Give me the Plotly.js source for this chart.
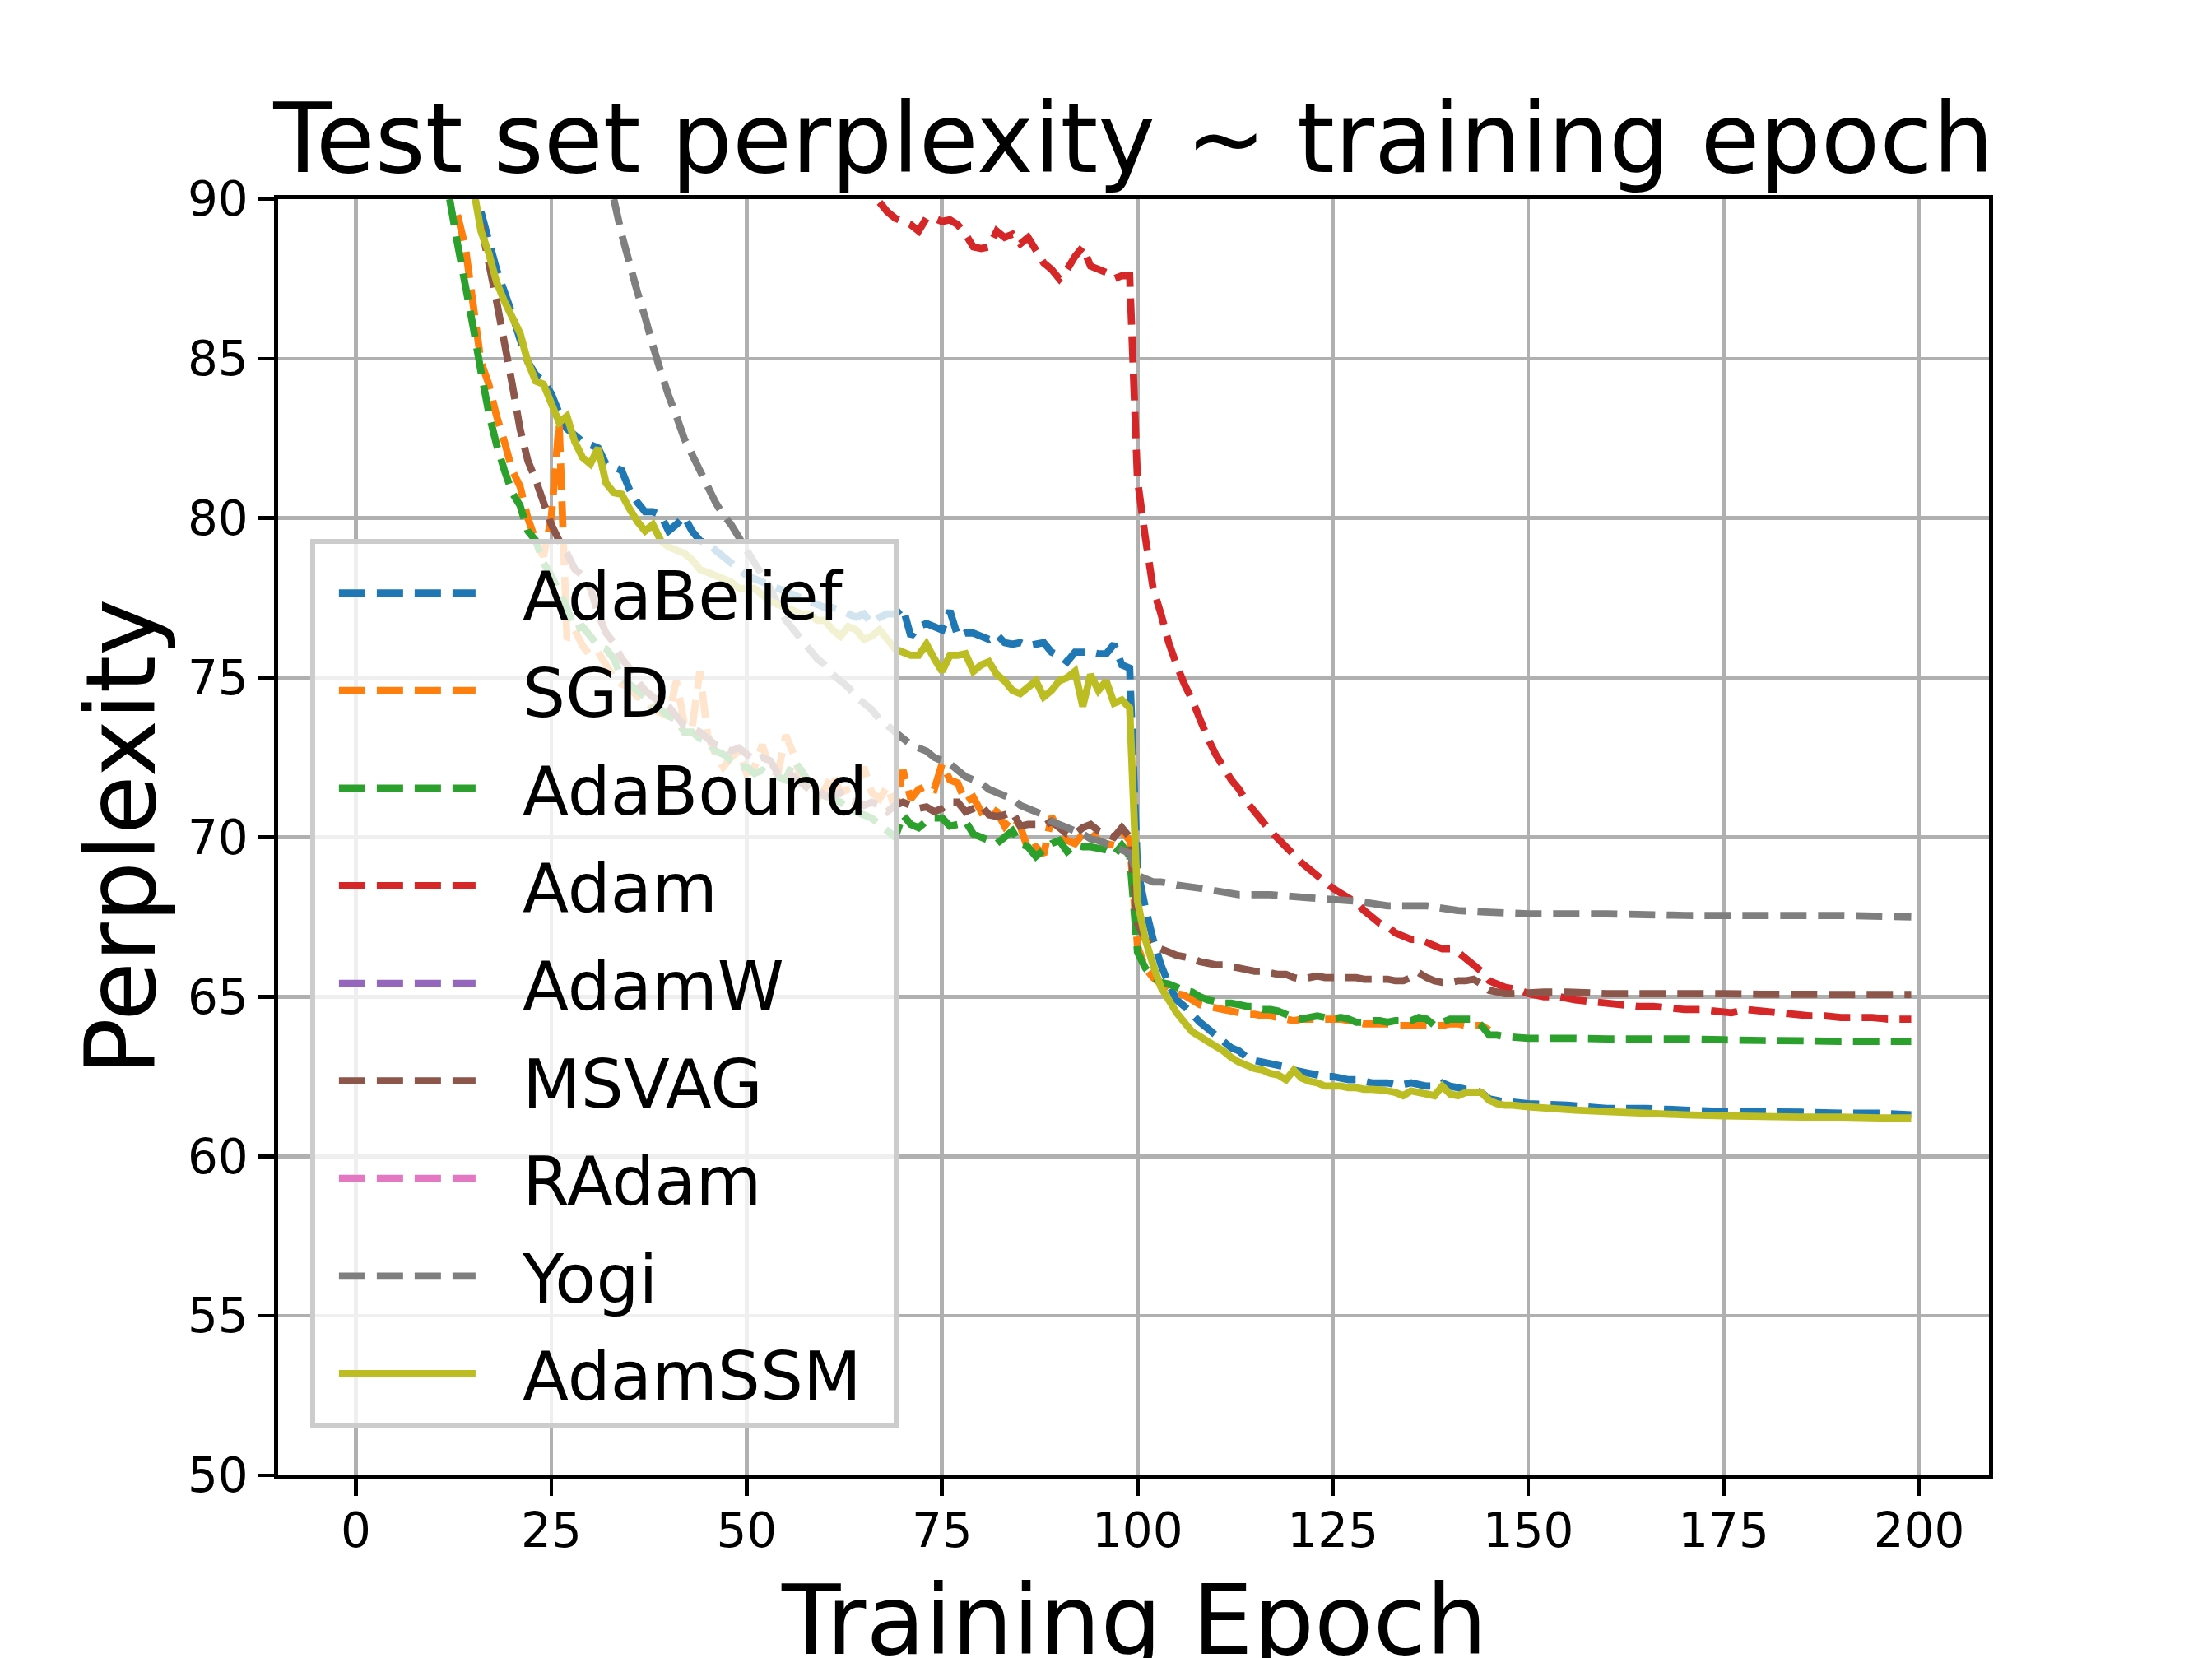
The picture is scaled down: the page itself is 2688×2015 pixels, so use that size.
<!DOCTYPE html>
<html>
<head>
<meta charset="utf-8">
<script src="https://cdn.plot.ly/plotly-3.0.1.min.js"></script>
<style>html,body{margin:0;padding:0;background:#fff;}#chart{width:2688px;height:2015px;}</style>
</head>
<body>
<div id="chart"></div>
<script>
// ---------- data ----------
const seriesNames = ['AdaBelief','SGD','AdaBound','Adam','AdamW','MSVAG','RAdam','Yogi','AdamSSM'];
const xTicks = [0,25,50,75,100,125,150,175,200];
const yTicks = [50,55,60,65,70,75,80,85,90];

// AdaBelief: per-epoch values from epoch 16 to 148, then a sparse tail
const adabeliefStart = 16;
const adabeliefVals = [
  89.6, 88.7, 87.8, 87.1, 86.4, 85.6, 84.9, 84.5, 84.3, 83.9,
  83.3, 82.8, 82.6, 82.4, 82.3, 82.2, 81.7, 81.6, 81.5, 80.9,
  80.5, 80.2, 80.2, 80.1, 79.6, 79.8, 80.05, 79.6, 79.3, 79.2,
  79.0, 78.8, 78.6, 78.4, 78.2, 78.1, 78.0, 77.9, 77.8, 77.7,
  77.6, 77.5, 77.4, 77.3, 77.2, 77.2, 77.1, 77.0, 76.9, 77.0,
  76.7, 76.9, 77.0, 77.0, 77.2, 76.3, 76.6, 76.7, 76.6, 76.5,
  77.1, 76.3, 76.4, 76.4, 76.3, 76.2, 76.35, 76.1, 76.05, 76.1,
  76.0, 76.05, 76.1, 75.8, 75.7, 75.5, 75.8, 75.8, 75.8, 75.75,
  75.75, 76.05, 75.4, 75.3, 69.0, 67.8, 66.8, 66.0, 65.4, 64.9,
  64.7, 64.45, 64.2, 64.0, 63.8, 63.6, 63.4, 63.3, 63.1, 63.0,
  62.95, 62.9, 62.85, 62.8, 62.7, 62.65, 62.6, 62.55, 62.5, 62.5,
  62.45, 62.4, 62.4, 62.35, 62.3, 62.3, 62.3, 62.25, 62.25, 62.3,
  62.25, 62.2, 62.2, 62.3, 62.2, 62.15, 62.1, 62.1, 62.0, 61.8,
  61.75, 61.7, 61.7
];
const adabeliefTailEpochs = [150,155,160,165,170,175,180,185,190,195,199];
const adabeliefTailVals   = [61.65,61.6,61.5,61.5,61.45,61.4,61.4,61.38,61.35,61.35,61.3];

// SGD: per-epoch values from epoch 13 to 145
const sgdStart = 13;
const sgdVals = [
  89.5, 88.5, 86.7, 84.9, 84.2, 83.2, 82.4, 81.5, 81.0, 80.0,
  79.3, 78.8, 80.0, 83.0, 76.2, 76.5, 76.0, 75.7, 75.8, 75.4,
  75.0, 74.8, 74.7, 74.4, 74.3, 74.0, 73.9, 73.8, 74.9, 73.6,
  73.4, 75.2, 73.2, 72.6, 72.2, 72.5, 72.7, 72.0, 72.2, 72.9,
  72.1, 72.0, 73.2, 72.6, 71.8, 71.6, 71.2, 71.5, 72.0, 71.4,
  71.5, 71.6, 72.2, 71.4, 71.2, 71.6, 70.9, 72.1, 71.2, 71.5,
  71.6, 71.5, 72.3, 71.8, 71.7, 71.1, 71.25, 70.8, 70.95, 70.8,
  70.35, 70.65, 70.35, 69.6, 69.7, 69.45, 70.65, 70.2, 69.9, 69.8,
  70.1, 70.2, 69.9, 69.8, 69.75, 70.2, 69.9, 66.6, 65.9, 65.6,
  65.4, 65.2, 65.1, 65.05, 64.9, 64.75, 64.7, 64.65, 64.6, 64.55,
  64.5, 64.45, 64.45, 64.4, 64.4, 64.35, 64.3, 64.25, 64.3, 64.3,
  64.3, 64.3, 64.3, 64.3, 64.25, 64.2, 64.15, 64.15, 64.15, 64.15,
  64.1, 64.1, 64.1, 64.1, 64.1, 64.1, 64.1, 64.15, 64.15, 64.1,
  64.1, 64.1, 63.95
];

// AdaBound: per-epoch values from epoch 12 to 147, then a sparse tail
const adaboundStart = 12;
const adaboundVals = [
  90.0, 88.6, 87.3, 86.0, 84.6, 83.3, 82.3, 81.5, 80.8, 80.4,
  79.6, 79.3, 78.6, 78.2, 77.7, 77.2, 76.5, 76.6, 76.3, 76.0,
  75.9, 75.6, 75.0, 74.8, 74.6, 74.4, 74.1, 74.0, 73.8, 73.7,
  73.3, 73.3, 73.1, 73.0, 72.7, 72.6, 72.4, 72.2, 72.2, 72.0,
  72.1, 71.9, 71.9, 71.8, 72.4, 72.1, 71.7, 71.4, 71.3, 71.2,
  71.1, 70.9, 70.8, 70.7, 70.6, 70.4, 70.2, 70.0, 70.7, 70.4,
  70.3, 70.5, 70.6, 70.6, 70.35, 70.4, 70.5, 70.1, 70.0, 69.9,
  69.8, 70.0, 70.2, 69.8, 69.7, 69.4, 69.6, 69.8, 69.9, 69.55,
  69.75, 69.7, 69.7, 69.65, 69.6, 69.45, 69.75, 69.4, 66.4, 65.9,
  65.6, 65.45, 65.4, 65.3, 65.2, 65.15, 65.0, 64.9, 64.85, 64.8,
  64.8, 64.75, 64.7, 64.7, 64.6, 64.6, 64.55, 64.45, 64.35, 64.3,
  64.35, 64.4, 64.35, 64.3, 64.35, 64.3, 64.2, 64.2, 64.25, 64.25,
  64.2, 64.25, 64.25, 64.25, 64.35, 64.3, 64.1, 64.2, 64.3, 64.3,
  64.3, 64.3, 64.1, 63.8, 63.8, 63.75
];
const adaboundTailEpochs = [150,155,160,165,170,175,180,185,190,195,199];
const adaboundTailVals   = [63.7,63.7,63.68,63.68,63.68,63.65,63.63,63.62,63.6,63.6,63.6];

// Adam: per-epoch values from epoch 67 to 150, then a sparse tail
const adamStart = 67;
const adamVals = [
  89.9, 89.6, 89.4, 89.3, 89.2, 89.0, 89.4, 89.4, 89.3, 89.35,
  89.2, 88.9, 88.5, 88.45, 88.5, 89.0, 88.8, 88.9, 88.6, 88.8,
  88.4, 88.0, 87.8, 87.5, 87.8, 88.2, 88.5, 87.9, 87.8, 87.7,
  87.5, 87.6, 87.6, 81.2, 79.4, 77.8, 77.0, 76.1, 75.4, 74.8,
  74.3, 73.7, 73.1, 72.6, 72.2, 71.8, 71.5, 71.1, 70.8, 70.5,
  70.2, 69.95, 69.7, 69.45, 69.2, 69.0, 68.8, 68.6, 68.4, 68.25,
  68.1, 67.95, 67.7, 67.5, 67.3, 67.2, 67.0, 66.9, 66.8, 66.8,
  66.7, 66.6, 66.5, 66.5, 66.4, 66.2, 66.0, 65.8, 65.5, 65.4,
  65.3, 65.25, 65.2, 65.1
];
const adamTailEpochs = [152,154,156,158,160,162,164,166,168,170,172,174,176,178,180,182,184,186,188,190,192,194,196,198,199];
const adamTailVals   = [65.0,65.0,64.9,64.85,64.8,64.75,64.7,64.7,64.65,64.6,64.6,64.55,64.5,64.6,64.55,64.5,64.45,64.4,64.4,64.35,64.35,64.35,64.3,64.3,64.3];

// AdamW and RAdam: listed in the legend, no curve visible inside the plotted range
const adamwEpochs = [0];
const adamwVals = [null];
const radamEpochs = [0];
const radamVals = [null];

// MSVAG: per-epoch values from epoch 16 to 148, then a sparse tail
const msvagStart = 16;
const msvagVals = [
  89.2, 88.0, 86.8, 85.5, 84.2, 82.8, 81.8, 81.2, 80.5, 79.8,
  79.3, 78.9, 78.4, 78.2, 77.8, 77.0, 76.4, 76.1, 75.6, 75.3,
  74.9, 74.6, 74.4, 74.2, 74.1, 73.8, 73.5, 73.4, 73.3, 73.1,
  72.9, 72.8, 72.7, 72.8, 72.6, 72.4, 72.5, 72.4, 72.0, 72.1,
  71.9, 71.7, 71.5, 71.5, 71.3, 71.3, 71.4, 71.2, 71.1, 71.0,
  71.1, 71.0, 70.8, 71.0, 71.1, 71.0, 70.9, 70.95, 70.8, 70.9,
  71.1, 71.1, 70.8, 70.9, 71.0, 70.7, 70.65, 70.7, 70.8, 70.35,
  70.4, 70.4, 70.35, 70.5, 70.3, 70.1, 70.1, 70.3, 70.4, 70.2,
  70.1, 70.0, 70.3, 70.0, 67.3, 66.8, 66.6, 66.5, 66.4, 66.3,
  66.25, 66.2, 66.1, 66.05, 66.0, 66.0, 65.95, 65.9, 65.85, 65.8,
  65.8, 65.75, 65.7, 65.7, 65.6, 65.55, 65.6, 65.65, 65.6, 65.6,
  65.6, 65.6, 65.6, 65.55, 65.55, 65.55, 65.55, 65.5, 65.5, 65.6,
  65.75, 65.6, 65.5, 65.45, 65.45, 65.5, 65.5, 65.55, 65.4, 65.2,
  65.15, 65.1, 65.1
];
const msvagTailEpochs = [150,152,155,160,165,170,175,180,185,190,195,199];
const msvagTailVals   = [65.12,65.15,65.15,65.1,65.1,65.1,65.1,65.08,65.08,65.07,65.07,65.07];

// Yogi: per-epoch values from epoch 33 to 102, then a sparse tail
const yogiStart = 33;
const yogiVals = [
  90.0, 88.9, 88.0, 87.1, 86.3, 85.4, 84.6, 83.85, 83.2, 82.5,
  82.0, 81.5, 81.0, 80.5, 80.1, 79.8, 79.4, 79.0, 78.6, 78.2,
  77.8, 77.3, 76.8, 76.5, 76.2, 75.9, 75.6, 75.4, 75.1, 74.9,
  74.7, 74.4, 74.2, 74.0, 73.7, 73.5, 73.3, 73.1, 72.9, 72.8,
  72.7, 72.5, 72.4, 72.3, 72.1, 71.9, 71.8, 71.7, 71.5, 71.4,
  71.3, 71.2, 71.0, 70.9, 70.8, 70.7, 70.5, 70.4, 70.3, 70.2,
  70.1, 69.95, 69.9, 69.8, 69.7, 69.6, 69.5, 68.8, 68.7, 68.6
];
const yogiTailEpochs = [103,105,108,113,117,122,128,132,137,141,145,150,160,170,180,190,199];
const yogiTailVals   = [68.6,68.5,68.4,68.2,68.2,68.1,68.0,67.85,67.85,67.7,67.65,67.6,67.6,67.55,67.55,67.55,67.5];

// AdamSSM: per-epoch values from epoch 15 to 148, then a sparse tail
const adamssmStart = 15;
const adamssmVals = [
  90.4, 89.0, 88.3, 87.4, 86.8, 86.3, 85.8, 84.9, 84.3, 84.2,
  83.6, 83.0, 83.2, 82.4, 81.9, 81.7, 82.2, 81.1, 80.8, 80.75,
  80.3, 79.9, 79.6, 79.8, 79.3, 79.1, 79.0, 78.9, 78.7, 78.4,
  78.3, 78.2, 78.1, 78.0, 77.8, 77.8, 77.8, 77.6, 77.4, 77.3,
  77.2, 77.1, 77.0, 77.0, 76.8, 76.8, 76.5, 76.3, 76.6, 76.5,
  76.2, 76.3, 76.5, 76.2, 75.9, 75.8, 75.7, 75.7, 76.05, 75.6,
  75.2, 75.7, 75.7, 75.75, 75.2, 75.4, 75.5, 75.1, 74.9, 74.6,
  74.5, 74.7, 74.9, 74.4, 74.6, 74.9, 75.0, 75.2, 74.1, 75.1,
  74.6, 74.9, 74.2, 74.3, 74.05, 68.0, 66.8, 66.0, 65.3, 64.9,
  64.5, 64.2, 63.9, 63.75, 63.6, 63.45, 63.3, 63.1, 62.95, 62.85,
  62.75, 62.7, 62.6, 62.55, 62.4, 62.7, 62.45, 62.35, 62.3, 62.2,
  62.2, 62.2, 62.15, 62.15, 62.1, 62.1, 62.08, 62.05, 62.0, 61.9,
  62.05, 62.0, 61.95, 61.9, 62.2, 61.95, 61.9, 62.0, 62.0, 62.0,
  61.75, 61.65, 61.6, 61.6
];
const adamssmTailEpochs = [150,153,156,160,165,170,175,180,185,190,195,199];
const adamssmTailVals   = [61.55,61.5,61.45,61.4,61.35,61.3,61.27,61.25,61.23,61.23,61.2,61.2];

// ---------- helpers ----------
function epochsFrom(start, vals) { return vals.map((_, i) => start + i); }

const colors = {
  AdaBelief: '#1f77b4', SGD: '#ff7f0e', AdaBound: '#2ca02c', Adam: '#d62728',
  AdamW: '#9467bd', MSVAG: '#8c564b', RAdam: '#e377c2', Yogi: '#7f7f7f', AdamSSM: '#bcbd22'
};

const series = {
  AdaBelief: [epochsFrom(adabeliefStart, adabeliefVals).concat(adabeliefTailEpochs), adabeliefVals.concat(adabeliefTailVals)],
  SGD:       [epochsFrom(sgdStart, sgdVals), sgdVals],
  AdaBound:  [epochsFrom(adaboundStart, adaboundVals).concat(adaboundTailEpochs), adaboundVals.concat(adaboundTailVals)],
  Adam:      [epochsFrom(adamStart, adamVals).concat(adamTailEpochs), adamVals.concat(adamTailVals)],
  AdamW:     [adamwEpochs, adamwVals],
  MSVAG:     [epochsFrom(msvagStart, msvagVals).concat(msvagTailEpochs), msvagVals.concat(msvagTailVals)],
  RAdam:     [radamEpochs, radamVals],
  Yogi:      [epochsFrom(yogiStart, yogiVals).concat(yogiTailEpochs), yogiVals.concat(yogiTailVals)],
  AdamSSM:   [epochsFrom(adamssmStart, adamssmVals).concat(adamssmTailEpochs), adamssmVals.concat(adamssmTailVals)]
};

const LW = 8.75;            // 1.5pt at 420 dpi
const DASH = '32px,14px';   // matplotlib '--'
const GAP = '\u00a0\u00a0'; // space between legend handle and label
const TAIL = '\u00a0';      // right padding inside the legend frame

const traces = seriesNames.map(name => ({
  type: 'scatter',
  mode: 'lines',
  name: GAP + name + TAIL,
  legendgroup: name,
  x: series[name][0],
  y: series[name][1],
  line: { color: colors[name], width: LW, dash: name === 'AdamSSM' ? 'solid' : DASH, simplify: false },
  hoverinfo: 'skip'
}));

const axisCommon = {
  showgrid: true, gridcolor: '#b0b0b0', gridwidth: 4.67,
  showline: true, linecolor: '#000000', linewidth: 4.67, mirror: true,
  ticks: 'outside', ticklen: 20, tickwidth: 4.67, tickcolor: '#000000',
  tickfont: { family: 'DejaVu Sans', size: 58, color: '#000000' },
  zeroline: false
};

const layout = {
  width: 2688, height: 2015, autosize: false,
  margin: { l: 338, r: 271, t: 242, b: 222, pad: 0 },
  paper_bgcolor: '#ffffff', plot_bgcolor: '#ffffff',
  font: { family: 'DejaVu Sans', color: '#000000' },
  title: {
    text: 'Test set perplexity ~ training epoch',
    font: { family: 'DejaVu Sans', size: 117, color: '#000000' },
    x: 0.5, xref: 'paper', xanchor: 'center',
    y: 1, yref: 'paper', yanchor: 'bottom',
    pad: { b: 33 }
  },
  xaxis: Object.assign({}, axisCommon, {
    range: [-9.95, 208.95],
    tickmode: 'array', tickvals: xTicks, ticktext: xTicks.map(String),
    ticklabelstandoff: -7
  }),
  yaxis: Object.assign({}, axisCommon, {
    range: [50, 90],
    tickmode: 'array', tickvals: yTicks, ticktext: yTicks.map(String),
    title: { text: 'Perplexity', font: { family: 'DejaVu Sans', size: 117, color: '#000000' }, standoff: 1 }
  }),
  annotations: [{
    text: 'Training Epoch',
    font: { family: 'DejaVu Sans', size: 117, color: '#000000' },
    x: 0.5, xref: 'paper', xanchor: 'center',
    y: -0.0683, yref: 'paper', yanchor: 'top',
    showarrow: false
  }],
  showlegend: true,
  legend: {
    x: 0.0188, y: 0.7337, xanchor: 'left', yanchor: 'top',
    bgcolor: 'rgba(255,255,255,0.8)', bordercolor: '#cccccc', borderwidth: 5.8,
    font: { family: 'DejaVu Sans', size: 82, color: '#000000' },
    itemwidth: 166, tracegroupgap: 9, traceorder: 'grouped', indentation: 24
  }
};

Plotly.newPlot('chart', traces, layout, { staticPlot: true, displayModeBar: false });
</script>
</body>
</html>
